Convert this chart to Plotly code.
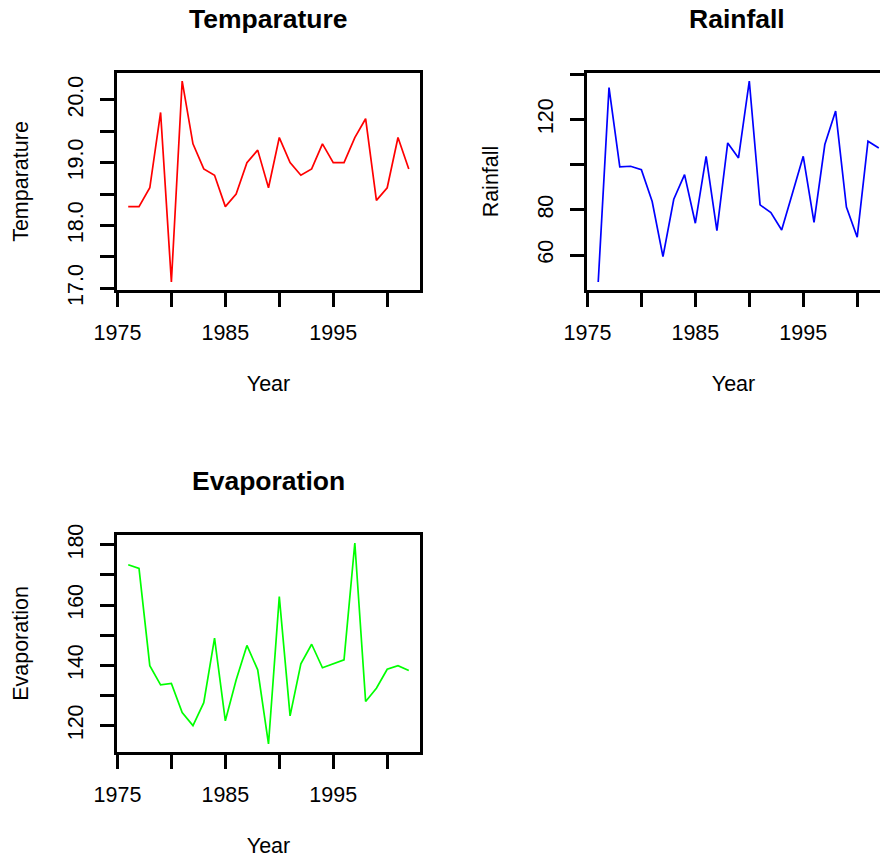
import plotly.graph_objects as go

# ---- data ----
years = list(range(1976, 2003))
temperature = [18.3, 18.3, 18.6, 19.8, 17.1, 20.3, 19.3, 18.9, 18.8, 18.3, 18.5, 19.0, 19.2, 18.6,
               19.4, 19.0, 18.8, 18.9, 19.3, 19.0, 19.0, 19.4, 19.7, 18.4, 18.6, 19.4, 18.9]
rainfall = [48.1, 134.1, 99.0, 99.3, 97.8, 83.7, 59.3, 84.7, 95.6, 74.1, 103.7, 70.8, 109.6, 103.0,
            137.0, 82.2, 78.8, 71.1, 87.4, 103.7, 74.5, 108.9, 123.7, 81.2, 67.9, 110.4, 107.4]
evaporation = [173.4, 172.2, 139.9, 133.5, 134.0, 124.3, 120.0, 127.6, 149.0, 121.6, 135.1, 146.6,
               138.5, 113.9, 162.8, 123.2, 140.5, 147.0, 139.2, 140.4, 141.8, 180.6, 128.0, 132.4,
               138.7, 139.9, 138.3]

x_tickvals = [1975, 1980, 1985, 1990, 1995, 2000]
x_ticktext = ["1975", "", "1985", "", "1995", ""]
temp_tickvals = [17.0, 17.5, 18.0, 18.5, 19.0, 19.5, 20.0]
temp_ticktext = ["17.0", "", "18.0", "", "19.0", "", "20.0"]
rain_tickvals = [60, 80, 100, 120, 140]
rain_ticktext = ["60", "80", "", "120", ""]
evap_tickvals = [120, 130, 140, 150, 160, 170, 180]
evap_ticktext = ["120", "", "140", "", "160", "", "180"]

W, H = 880, 859
FONT = "Liberation Sans, Arial, Helvetica, sans-serif"


def r_range(vals):
    lo, hi = min(vals), max(vals)
    s = hi - lo
    return [lo - 0.04 * s, hi + 0.04 * s]


def px(v):
    return v / W


def py(v):
    return 1 - v / H


xr = r_range(years)
box_w = 303.0
rain_xr = [xr[0], xr[0] + (xr[1] - xr[0]) * (W - 587) / box_w]

fig = go.Figure()
fig.add_trace(go.Scatter(x=years, y=temperature, mode="lines", line=dict(color="#FF0000", width=1.7),
                         xaxis="x", yaxis="y", showlegend=False))
fig.add_trace(go.Scatter(x=years, y=rainfall, mode="lines", line=dict(color="#0000FF", width=1.7),
                         xaxis="x2", yaxis="y2", showlegend=False))
fig.add_trace(go.Scatter(x=years, y=evaporation, mode="lines", line=dict(color="#00FF00", width=1.7),
                         xaxis="x3", yaxis="y3", showlegend=False))

tickfont = dict(family=FONT, size=21.5, color="black")
titlefont = dict(family=FONT, size=21.5, color="black")


def xaxis(domain, rng, anchor, mirror=True):
    return dict(domain=domain, range=rng, anchor=anchor, showgrid=False, zeroline=False,
                automargin=False,
                showline=True, linecolor="black", linewidth=3, mirror=mirror,
                ticks="outside", ticklen=14, tickwidth=3, tickcolor="black",
                tickvals=x_tickvals, ticktext=x_ticktext, tickfont=tickfont,
                ticklabelstandoff=7,
                title=dict(text="Year", font=titlefont, standoff=33))


def yaxis(domain, rng, anchor, tv, tt, title, mirror=True):
    return dict(domain=domain, range=rng, anchor=anchor, showgrid=False, zeroline=False,
                automargin=False,
                showline=True, linecolor="black", linewidth=3, mirror=mirror,
                ticks="outside", ticklen=14, tickwidth=3, tickcolor="black",
                tickvals=tv, ticktext=tt, tickfont=tickfont, tickangle=-90,
                ticklabelstandoff=8,
                title=dict(text=title, font=titlefont, standoff=30))


top_dom = [py(290), py(73)]
bot_dom = [py(752), py(535)]
left_dom = [px(117), px(420)]
right_dom = [px(587), 1.0]

fig.update_layout(
    width=W, height=H,
    margin=dict(l=0, r=0, t=0, b=0),
    paper_bgcolor="white", plot_bgcolor="white",
    font=dict(family=FONT, color="black"),
    xaxis=xaxis(left_dom, xr, "y"),
    yaxis=yaxis(top_dom, r_range(temperature), "x", temp_tickvals, temp_ticktext, "Temparature"),
    xaxis2=xaxis(right_dom, rain_xr, "y2"),
    yaxis2=yaxis(top_dom, r_range(rainfall), "x2", rain_tickvals, rain_ticktext, "Rainfall", mirror=False),
    xaxis3=xaxis(left_dom, xr, "y3"),
    yaxis3=yaxis(bot_dom, r_range(evaporation), "x3", evap_tickvals, evap_ticktext, "Evaporation"),
    annotations=[
        dict(text="<b>Temparature</b>", x=px(268.5), y=py(19), xref="paper", yref="paper",
             showarrow=False, xanchor="center", yanchor="middle", font=dict(family=FONT, size=26.5)),
        dict(text="<b>Rainfall</b>", x=px(737), y=py(19), xref="paper", yref="paper",
             showarrow=False, xanchor="center", yanchor="middle", font=dict(family=FONT, size=26.5)),
        dict(text="<b>Evaporation</b>", x=px(268.5), y=py(481), xref="paper", yref="paper",
             showarrow=False, xanchor="center", yanchor="middle", font=dict(family=FONT, size=26.5)),
    ],
)

fig.write_html("out.html", config={"displayModeBar": False},
               post_script="document.body.style.margin='0';document.body.style.overflow='hidden';")
